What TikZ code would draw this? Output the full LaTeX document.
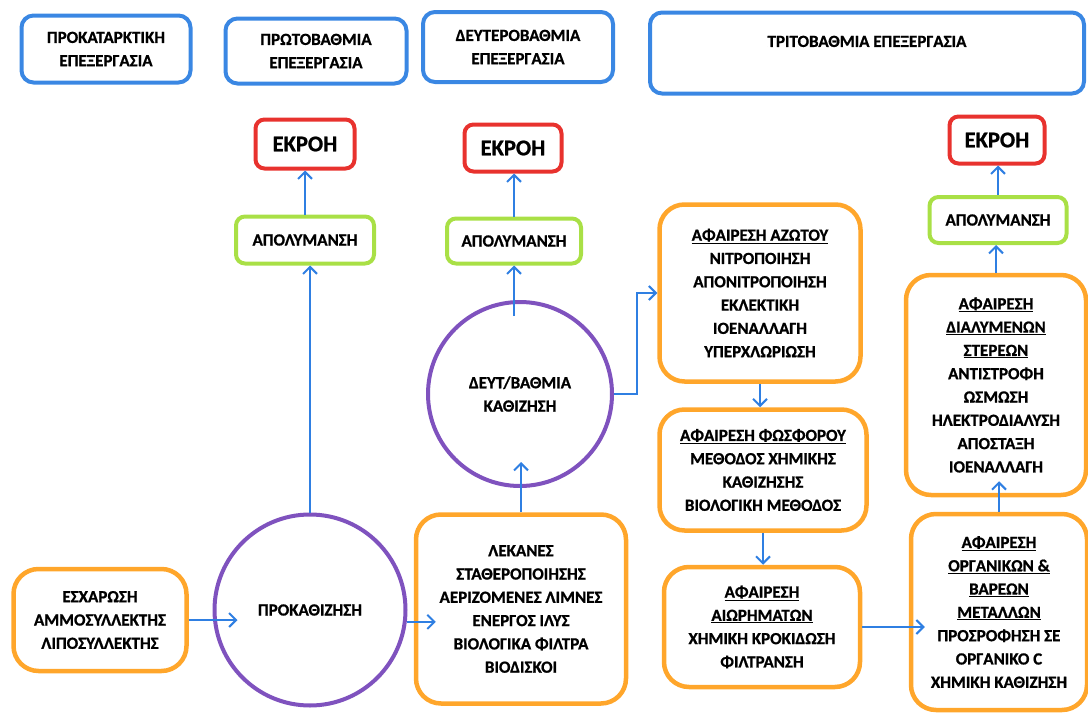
\documentclass[tikz,border=0pt]{standalone}
\usepackage{fontspec}
\setmainfont{Carlito}[BoldFeatures={FakeBold=0.9}]
\usepackage{tikz}
\usetikzlibrary{arrows.meta,calc,positioning}

\definecolor{headblue}{HTML}{3A87E3}
\definecolor{outred}{HTML}{E8322E}
\definecolor{disgreen}{HTML}{A9E046}
\definecolor{unitorange}{HTML}{FFA62B}
\definecolor{tankpurple}{HTML}{7F52BE}
\definecolor{flowblue}{HTML}{2F7FE2}

\begin{document}
\begin{tikzpicture}[x=1pt,y=-1pt,>={Straight Barb[length=7pt,width=14pt]}]
%   ESXAROSH --> (PROKATH) --> LEKANES
%                   |             |
%                 APOL          (DEYT) --> AZOTO --> FOSFORO --> AIORHMATA --> ORGANIKA
%                   |             |                                              |
%                 EKROH         APOL                                   DIALYMENA -> APOL -> EKROH
    \tikzstyle{every node}=[font=\bfseries\fontsize{17}{23.3}\selectfont, align=center, inner sep=2pt]
    \tikzstyle{head}=[draw=headblue, line width=4pt, rounded corners=12pt]
    \tikzstyle{outflow}=[draw=outred, line width=4pt, rounded corners=9pt, font=\bfseries\fontsize{22.5}{26}\selectfont]
    \tikzstyle{disinf}=[draw=disgreen, line width=4pt, rounded corners=9pt]
    \tikzstyle{unit}=[draw=unitorange, line width=4.5pt, rounded corners=25pt]
    \tikzstyle{tank}=[draw=tankpurple, line width=4pt, circle]
    \tikzstyle{flow}=[->, draw=flowblue, line width=2pt]

    \useasboundingbox (0,0) rectangle (1088,720);

    % Stage headers
    \node[head, minimum width=169, minimum height=67] (hpre) at (106,49) {ΠΡΟΚΑΤΑΡΚΤΙΚΗ\\ΕΠΕΞΕΡΓΑΣΙΑ};
    \node[head, minimum width=181, minimum height=65] (hprim) at (316,51) {ΠΡΩΤΟΒΑΘΜΙΑ\\ΕΠΕΞΕΡΓΑΣΙΑ};
    \node[head, minimum width=190, minimum height=70] (hsec) at (518,47) {ΔΕΥΤΕΡΟΒΑΘΜΙΑ\\ΕΠΕΞΕΡΓΑΣΙΑ};
    \node[head, minimum width=434, minimum height=81] (hter) at (867,53) {ΤΡΙΤΟΒΑΘΜΙΑ ΕΠΕΞΕΡΓΑΣΙΑ\\~};

    % Outflows and disinfection
    \node[outflow, minimum width=99, minimum height=49] (ekr1) at (305,144) {ΕΚΡΟΗ};
    \node[outflow, minimum width=97, minimum height=47] (ekr2) at (513,148) {ΕΚΡΟΗ};
    \node[outflow, minimum width=95, minimum height=47] (ekr3) at (997,140) {ΕΚΡΟΗ};
    \node[disinf, minimum width=138, minimum height=47] (apol1) at (305,240) {ΑΠΟΛΥΜΑΝΣΗ};
    \node[disinf, minimum width=134, minimum height=45] (apol2) at (514,241) {ΑΠΟΛΥΜΑΝΣΗ};
    \node[disinf, minimum width=137, minimum height=46] (apol3) at (998,220) {ΑΠΟΛΥΜΑΝΣΗ};

    % Settling tanks
    \node[tank, minimum size=191] (prok) at (310,610) {ΠΡΟΚΑΘΙΖΗΣΗ};
    \node[tank, minimum size=184] (deyt) at (520,394) {ΔΕΥΤ/ΒΑΘΜΙΑ\\ΚΑΘΙΖΗΣΗ};

    % Process units
    \node[unit, minimum width=173, minimum height=102] (esch) at (100,620) {ΕΣΧΑΡΩΣΗ\\ΑΜΜΟΣΥΛΛΕΚΤΗΣ\\ΛΙΠΟΣΥΛΛΕΚΤΗΣ};
    \node[unit, minimum width=210, minimum height=189] (lek) at (521,609) {ΛΕΚΑΝΕΣ\\ΣΤΑΘΕΡΟΠΟΙΗΣΗΣ\\ΑΕΡΙΖΟΜΕΝΕΣ ΛΙΜΝΕΣ\\ΕΝΕΡΓΟΣ ΙΛΥΣ\\ΒΙΟΛΟΓΙΚΑ ΦΙΛΤΡΑ\\ΒΙΟΔΙΣΚΟΙ};
    \node[unit, minimum width=201, minimum height=177] (azot) at (760,293) {\underline{ΑΦΑΙΡΕΣΗ ΑΖΩΤΟΥ}\\ΝΙΤΡΟΠΟΙΗΣΗ\\ΑΠΟΝΙΤΡΟΠΟΙΗΣΗ\\ΕΚΛΕΚΤΙΚΗ\\ΙΟΕΝΑΛΛΑΓΗ\\ΥΠΕΡΧΛΩΡΙΩΣΗ};
    \node[unit, minimum width=207, minimum height=121] (fosf) at (763,470) {\underline{ΑΦΑΙΡΕΣΗ ΦΩΣΦΟΡΟΥ}\\ΜΕΘΟΔΟΣ ΧΗΜΙΚΗΣ\\ΚΑΘΙΖΗΣΗΣ\\ΒΙΟΛΟΓΙΚΗ ΜΕΘΟΔΟΣ};
    \node[unit, minimum width=196, minimum height=120] (aior) at (762,627) {\underline{ΑΦΑΙΡΕΣΗ}\\\underline{ΑΙΩΡΗΜΑΤΩΝ}\\ΧΗΜΙΚΗ ΚΡΟΚΙΔΩΣΗ\\ΦΙΛΤΡΑΝΣΗ};
    \node[unit, minimum width=180, minimum height=220] (dial) at (996,385) {\underline{ΑΦΑΙΡΕΣΗ}\\\underline{ΔΙΑΛΥΜΕΝΩΝ}\\\underline{ΣΤΕΡΕΩΝ}\\ΑΝΤΙΣΤΡΟΦΗ\\ΩΣΜΩΣΗ\\ΗΛΕΚΤΡΟΔΙΑΛΥΣΗ\\ΑΠΟΣΤΑΞΗ\\ΙΟΕΝΑΛΛΑΓΗ};
    \node[unit, minimum width=176, minimum height=196] (org) at (999,612) {\underline{ΑΦΑΙΡΕΣΗ}\\\underline{ΟΡΓΑΝΙΚΩΝ \&}\\\underline{ΒΑΡΕΩΝ}\\\underline{ΜΕΤΑΛΛΩΝ}\\ΠΡΟΣΡΟΦΗΣΗ ΣΕ\\ΟΡΓΑΝΙΚΟ C\\ΧΗΜΙΚΗ ΚΑΘΙΖΗΣΗ};

    % Main line
    \draw[flow, shorten >=-25pt] (esch.east) -- (esch.east -| prok.west);
    \draw[flow, shorten >=-22pt] (prok.-7) -- (prok.-7 -| lek.west);
    \draw[flow] (prok.north) -- (prok.north |- apol1.south);
    \draw[flow] (apol1.north) -- (apol1.north |- ekr1.south);
    \draw[flow, shorten >=-26pt] (lek.north) -- (lek.north |- deyt.south);
    \draw[flow, shorten <=-16pt] (apol2.south |- deyt.north) -- (apol2.south);
    \draw[flow] (apol2.north) -- (apol2.north |- ekr2.south);

    % Tertiary line
    \draw[flow] (deyt.east) -- ++(23,0) |- (azot.west);
    \draw[flow] (azot.south) -- (azot.south |- fosf.north);
    \draw[flow] (fosf.south) -- (fosf.south |- aior.north);
    \draw[flow, shorten >=-16pt] (aior.east) -- (aior.east -| org.west);
    \draw[flow, shorten >=-16pt] (org.north) -- (org.north |- dial.south);
    \draw[flow] (dial.north) -- (dial.north |- apol3.south);
    \draw[flow] (apol3.north) -- (apol3.north |- ekr3.south);
\end{tikzpicture}
\end{document}
